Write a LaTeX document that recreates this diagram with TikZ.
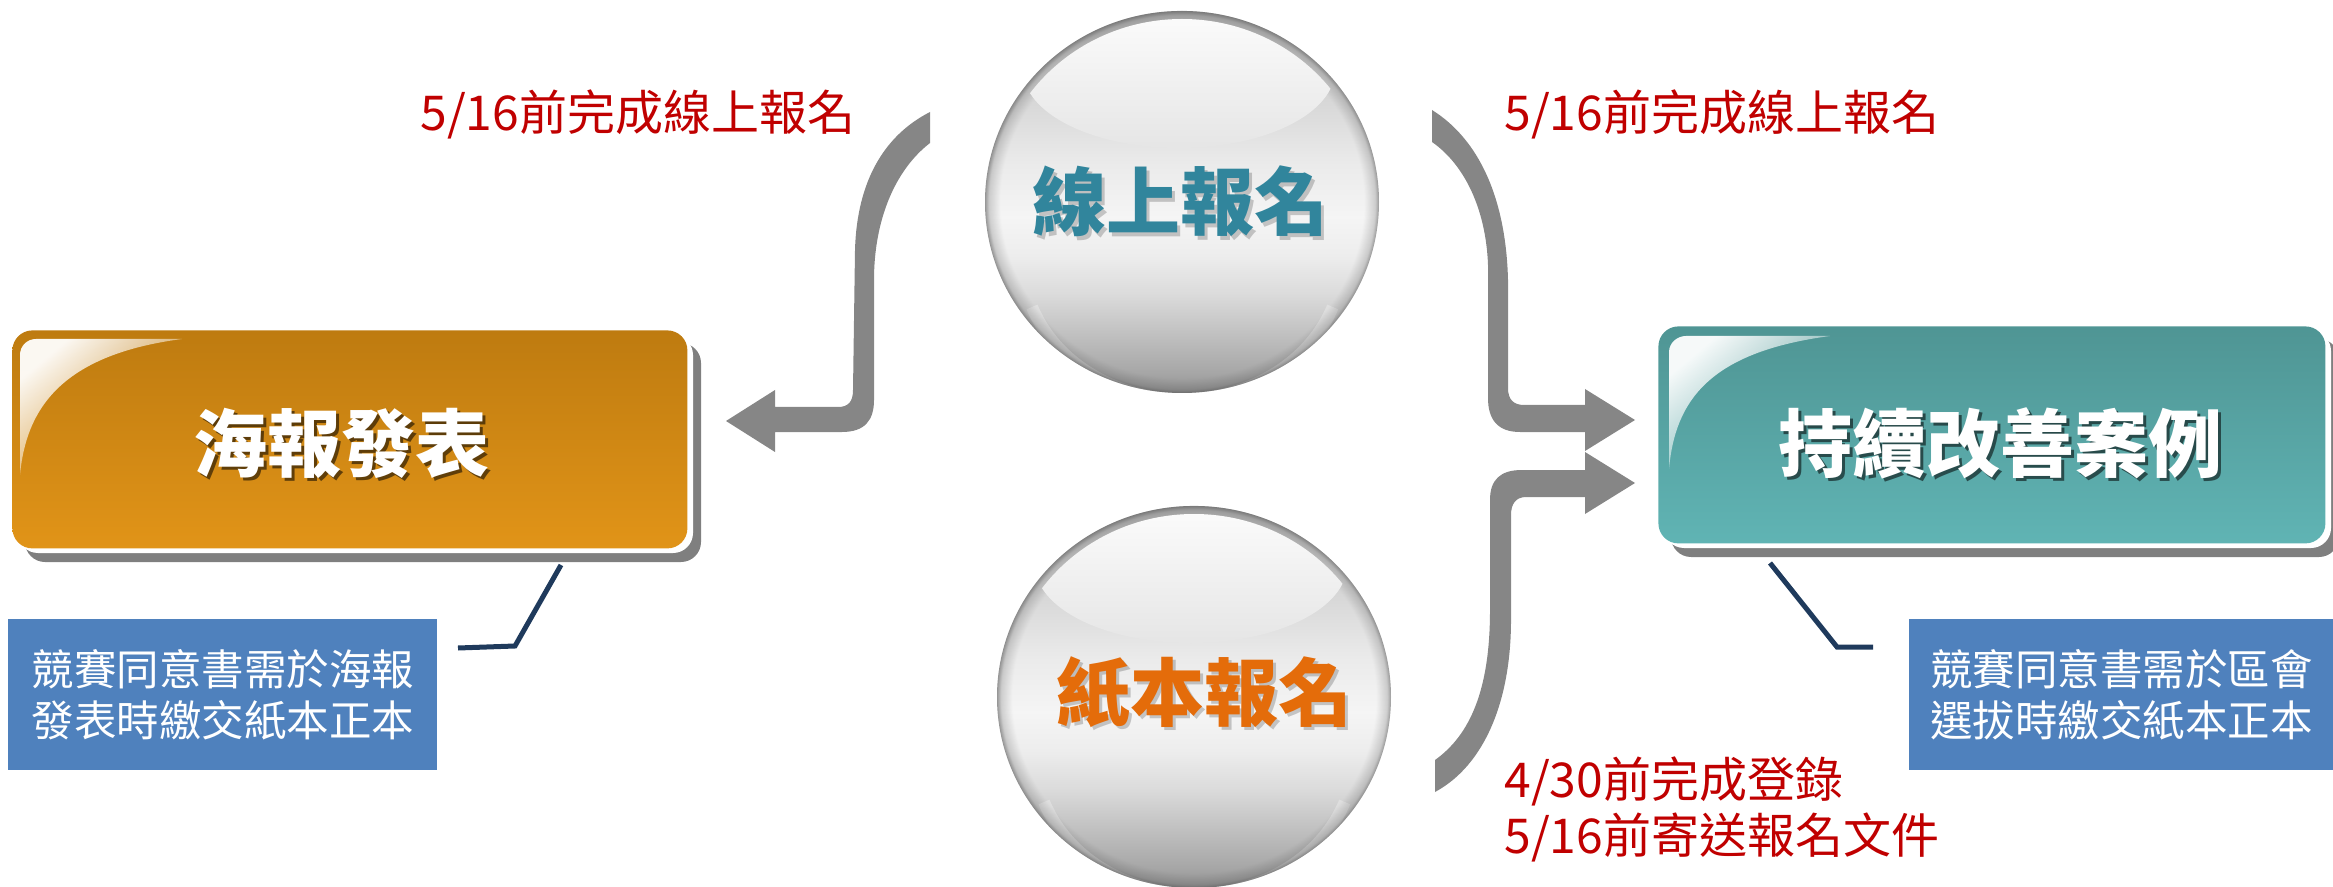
\documentclass[tikz,border=0pt]{standalone}
\usepackage{fontspec}
\newfontfamily\cjk{Noto Sans CJK TC}
\usetikzlibrary{fadings}

\definecolor{arrowgray}{HTML}{868686}
\definecolor{boxshadow}{HTML}{7F7F7F}
\definecolor{orgtop}{HTML}{BE7B10}
\definecolor{orgbot}{HTML}{E19418}
\definecolor{tealtop}{HTML}{4F9594}
\definecolor{tealbot}{HTML}{60B4B4}
\definecolor{noteblue}{HTML}{4F81BD}
\definecolor{leadnavy}{HTML}{1F3A5C}
\definecolor{labelred}{HTML}{C00000}
\definecolor{onlinetxt}{HTML}{31859C}
\definecolor{papertxt}{HTML}{E46C0A}

\pgfdeclareverticalshading{ballvert}{100bp}{color(0bp)=(black!42); color(25bp)=(black!42); color(28bp)=(black!34); color(33bp)=(black!24); color(38bp)=(black!14); color(43bp)=(black!7); color(48bp)=(black!4); color(55bp)=(black!8); color(68bp)=(black!20); color(75bp)=(black!30); color(100bp)=(black!30)}
\pgfdeclareradialshading{rimsh}{\pgfpointorigin}{color(0bp)=(pgftransparent!100); color(23bp)=(pgftransparent!100); color(24.4bp)=(pgftransparent!78); color(25bp)=(pgftransparent!40); color(50bp)=(pgftransparent!40)}
\pgfdeclarefading{rimfade}{\pgfuseshading{rimsh}}
\tikzfading[name=glossfade, left color=transparent!5, right color=transparent!100]

\tikzset{
  redlabel/.style={font=\cjk\fontsize{24pt}{28pt}\selectfont, text=labelred, inner sep=0pt},
  boxtitle/.style={font=\cjk\bfseries\fontsize{37pt}{44pt}\selectfont, inner sep=0pt},
  balltitle/.style={font=\cjk\bfseries\fontsize{37pt}{44pt}\selectfont, inner sep=0pt},
  notebox/.style={fill=noteblue, text=white, align=center, inner sep=0pt, anchor=north west,
    font=\cjk\fontsize{21.25pt}{25.5pt}\selectfont},
  leader/.style={draw=leadnavy, line width=2.5pt},
  blockarrow/.style={fill=arrowgray},
  mainbox/.style={rounded corners=10pt, inner sep=0pt, anchor=north west},
  gloss/.style={fill=white, path fading=glossfade, fading angle=-45},
}

\newcommand\drawglassball[1]{%
  \begin{scope}[shift={(#1)}]
    \path[shading=ballvert] (0,0) ellipse [x radius=98.5pt, y radius=95.5pt];
    \begin{scope}
      \clip (0,0) ellipse [x radius=98.5pt, y radius=95.5pt];
      \draw[white, opacity=0.28, line width=6pt] (-150,105) arc [start angle=200, end angle=340, x radius=80pt, y radius=70pt];
    \end{scope}
    \fill[black!70, path fading=rimfade] (0,0) ellipse [x radius=98.5pt, y radius=95.5pt];
    \begin{scope}
      \clip (0,0) ellipse [x radius=94.5pt, y radius=91.5pt];
      \shade[top color=white, bottom color=black!10] (-3,-132) ellipse [x radius=78pt, y radius=39pt];
    \end{scope}
  \end{scope}}

\begin{document}
\begin{tikzpicture}[x=0.5pt,y=-0.5pt]
\useasboundingbox (0,0) rectangle (2333,887);
\clip (0,0) rectangle (2333,887);

% ---- block arrows
\fill[blockarrow] (930,112) .. controls (885,135) and (857,180) .. (855,250) -- (853,390)
  .. controls (853,402) and (848,407) .. (838,407) -- (775,407) -- (775,390) -- (726,421)
  -- (775,452) -- (775,432) -- (842,432) .. controls (865,432) and (874,420) .. (874,400)
  -- (874,280) .. controls (874,220) and (895,170) .. (930,143) -- cycle;
\fill[blockarrow] (1432,110) .. controls (1480,140) and (1506,200) .. (1508,280) -- (1508,388)
  .. controls (1508,399) and (1513,405) .. (1524,405) -- (1585,405) -- (1585,389) -- (1635,420)
  -- (1585,451) -- (1585,432) -- (1520,432) .. controls (1498,432) and (1488,420) .. (1488,398)
  -- (1488,265) .. controls (1486,210) and (1465,165) .. (1432,142) -- cycle;
\fill[blockarrow] (1435,760) .. controls (1470,735) and (1490,690) .. (1490,610) -- (1490,500)
  .. controls (1490,480) and (1500,470) .. (1522,470) -- (1585,470) -- (1585,452) -- (1635,483)
  -- (1585,514) -- (1585,497) -- (1526,497) .. controls (1515,497) and (1511,505) .. (1511,515)
  -- (1511,620) .. controls (1511,700) and (1485,765) .. (1435,792) -- cycle;

% ---- glass balls
\drawglassball{1182,202}
\drawglassball{1194,697}
\node[balltitle, text=black, opacity=0.2] at (1183,205) {線上報名};
\node[balltitle, text=onlinetxt] (online) at (1180,201) {線上報名};
\node[balltitle, text=black, opacity=0.2] at (1207,695) {紙本報名};
\node[balltitle, text=papertxt] (paper) at (1204,692) {紙本報名};

% ---- left box
\fill[boxshadow, rounded corners=10pt] (25,343) rectangle (701,562);
\fill[white, rounded corners=10pt] (18,335) rectangle (693,553);
\node[mainbox, top color=orgtop, bottom color=orgbot, minimum width=337.5pt, minimum height=109pt] (poster) at (12,330) {};
\fill[gloss] (20,475) .. controls (26,410) and (60,355) .. (182,339) -- (36,339)
  .. controls (27,339) and (20,346) .. (20,355) -- cycle;
\node[boxtitle, text=black, opacity=0.55] at (344,446) {海報發表};
\node[boxtitle, text=white] (posterT) at (341,443) {海報發表};

% ---- right box
\fill[boxshadow, rounded corners=10pt] (1671,339) rectangle (2339,557);
\fill[white, rounded corners=10pt] (1664,331) rectangle (2331,548);
\node[mainbox, top color=tealtop, bottom color=tealbot, minimum width=333.5pt, minimum height=108.5pt] (case) at (1658,326) {};
\fill[gloss] (1669,469) .. controls (1675,400) and (1710,352) .. (1830,336) -- (1686,336)
  .. controls (1677,336) and (1669,343) .. (1669,352) -- cycle;
\node[boxtitle, text=black, opacity=0.55] at (2003,446) {持續改善案例};
\node[boxtitle, text=white] (caseT) at (2000,443) {持續改善案例};

% ---- red labels
\node[redlabel, anchor=base west] (lblL) at (420,131) {5/16前完成線上報名};
\node[redlabel, anchor=base west] (lblR) at (1504,131) {5/16前完成線上報名};
\node[redlabel, anchor=base west] (lblP1) at (1504,797) {4/30前完成登錄};
\node[redlabel, anchor=base west] (lblP2) at (1504,853) {5/16前寄送報名文件};

% ---- notes
\node[notebox, minimum width=214.5pt, minimum height=75.5pt] (noteL) at (8,619) {競賽同意書需於海報\\發表時繳交紙本正本};
\node[notebox, minimum width=212pt, minimum height=75.5pt] (noteR) at (1909,619) {競賽同意書需於區會\\選拔時繳交紙本正本};

% ---- leader lines
\coordinate (pL) at (561,565);
\coordinate (kL) at (515,646);
\coordinate (eL) at (458,648);
\draw[leader] (pL) -- (kL) -- (eL);
\coordinate (pR) at (1770,563);
\coordinate (kR) at (1837,647);
\coordinate (eR) at (1873,647);
\draw[leader] (pR) -- (kR) -- (eR);
\end{tikzpicture}
\end{document}
